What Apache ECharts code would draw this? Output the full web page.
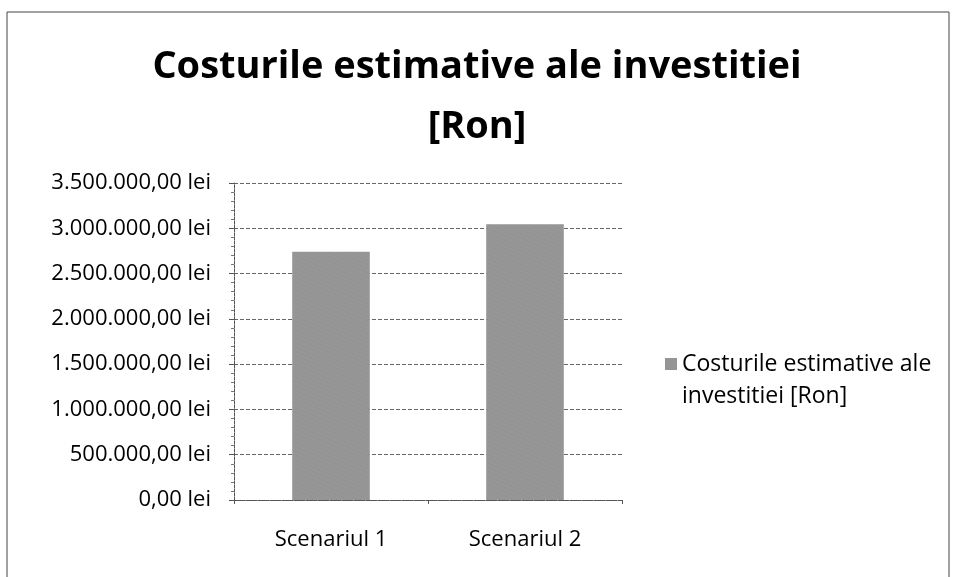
<!DOCTYPE html>
<html>
<head>
<meta charset="utf-8">
<script src="https://cdn.jsdelivr.net/npm/echarts@6/dist/echarts.min.js"></script>
<style>
    html, body {margin: 0; padding: 0; background: #fff;}
    #chart {width: 954px; height: 577px;}
</style>
</head>
<body>
<div id="chart"></div>
<script>
// date
var categories = ['Scenariul 1', 'Scenariul 2'];
var costuri = [2740000, 3045000];
var seriesName = 'Costurile estimative ale investitiei [Ron]';

// 3500000 -> "3.500.000,00 lei"
function lei(v) {
    var s = String(Math.round(v)).replace(/\B(?=(\d{3})+(?!\d))/g, '.');
    return s + ',00 lei';
}

var myChart = echarts.init(document.getElementById('chart'));
var option = {
    animation: false,
    textStyle: {fontFamily: 'Open Sans'},
    title: {
        text: 'Costurile estimative ale investitiei\n[Ron]',
        left: 'center',
        top: 32,
        textStyle: {
            fontFamily: 'Open Sans',
            fontSize: 38,
            fontWeight: 'bold',
            color: '#000',
            lineHeight: 60
        }
    },
    legend: {
        orient: 'vertical',
        left: 665,
        top: 348,
        padding: 0,
        itemWidth: 12,
        itemHeight: 44,
        // patratel sus, ca sa stea in dreptul primului rand
        icon: 'path://M0,0H12V12H0Z M0,43.99H0.01V44H0Z',
        textStyle: {fontSize: 23, color: '#000', lineHeight: 32},
        formatter: function () {
            return 'Costurile estimative ale\ninvestitiei [Ron]';
        },
        data: [seriesName]
    },
    grid: {
        left: 234,
        right: 332,
        top: 183,
        bottom: 77
    },
    xAxis: {
        type: 'category',
        data: categories,
        axisLine: {lineStyle: {color: '#555', width: 1, type: [3, 1]}},
        axisTick: {show: true, length: 4, lineStyle: {color: '#555'}},
        axisLabel: {fontSize: 22, color: '#000', margin: 29}
    },
    yAxis: {
        type: 'value',
        min: 0,
        max: 3500000,
        interval: 500000,
        axisLine: {show: true, lineStyle: {color: '#555', type: [3, 1], width: 1}},
        axisTick: {show: true, length: 5, lineStyle: {color: '#555'}},
        minorTick: {show: true, splitNumber: 5, length: 3, lineStyle: {color: '#777'}},
        splitLine: {lineStyle: {color: '#666', type: [4, 2], width: 1}},
        axisLabel: {
            fontSize: 22,
            color: '#000',
            margin: 23,
            formatter: lei
        }
    },
    series: [
        {
            name: seriesName,
            type: 'bar',
            data: costuri,
            barWidth: '40%',
            itemStyle: {
                color: '#969696',
                decal: {
                    symbol: 'rect',
                    symbolSize: 0.6,
                    color: 'rgba(60,60,60,0.35)',
                    dashArrayX: [1, 2],
                    dashArrayY: [1, 3],
                    rotation: 0.4
                }
            }
        }
    ],
    graphic: [
        {
            type: 'rect',
            shape: {x: 7, y: 12, width: 942, height: 570},
            style: {fill: 'none', stroke: '#444', lineWidth: 1}
        }
    ]
};
myChart.setOption(option);
</script>
</body>
</html>
